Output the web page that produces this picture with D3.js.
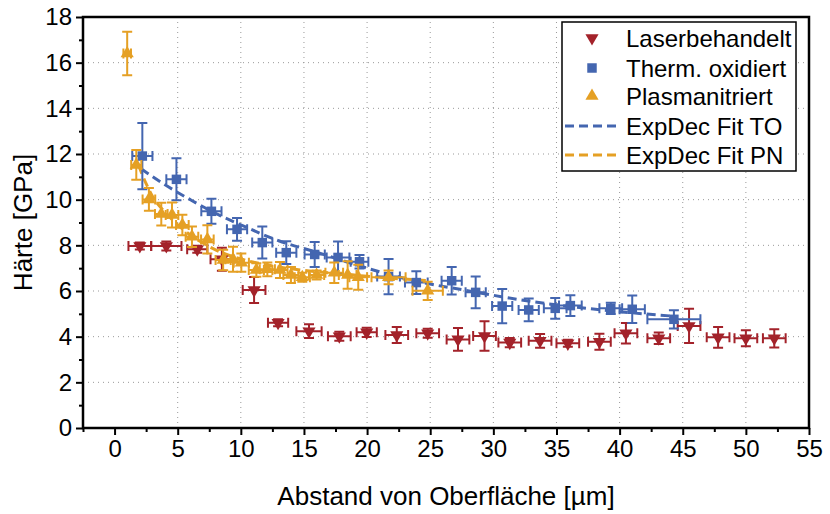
<!DOCTYPE html>
<html>
<head>
<meta charset="utf-8">
<script src="https://cdn.jsdelivr.net/npm/d3@7"></script>
<style>
  body { margin: 0; background: #fff; }
  text { font-family: "Liberation Sans", Arial, sans-serif; fill: #000; }
</style>
</head>
<body>
<div id="canvas"></div>
<script>
const width = 830;
const height = 514;
const margin = { top: 17, left: 83, bottom: 86, right: 21 };
const iwidth = width - margin.left - margin.right;
const iheight = height - margin.top - margin.bottom;

// Laserbehandelt
const laserX = [2.0, 4.1, 6.55, 8.5, 11.05, 12.95, 15.4, 17.8, 19.97, 22.35, 24.8, 27.2, 29.3, 31.3, 33.7, 35.9, 38.4, 40.5, 43.1, 45.5, 47.8, 50.0, 52.25];
const laserY = [7.97, 7.97, 7.83, 7.39, 6.04, 4.61, 4.24, 4.02, 4.19, 4.07, 4.15, 3.88, 4.03, 3.74, 3.82, 3.71, 3.78, 4.15, 3.93, 4.47, 3.97, 3.93, 3.93];
const laserYErr = [0.15, 0.2, 0.15, 0.5, 0.57, 0.15, 0.3, 0.2, 0.2, 0.35, 0.2, 0.5, 0.65, 0.2, 0.3, 0.15, 0.35, 0.45, 0.25, 0.75, 0.45, 0.35, 0.4];
const laserXErr = [0.9, 1.2, 0.8, 0.9, 0.9, 0.8, 1.0, 0.9, 0.8, 0.9, 0.9, 0.9, 0.9, 0.9, 0.9, 0.9, 0.9, 0.9, 0.9, 0.9, 0.9, 0.9, 0.9];

// Therm. oxidiert
const thermX = [2.2, 4.9, 7.67, 9.7, 11.7, 13.6, 15.85, 17.7, 19.4, 21.7, 23.9, 26.7, 28.6, 30.7, 32.8, 34.9, 36.1, 39.3, 41.0, 44.3];
const thermY = [11.91, 10.89, 9.49, 8.7, 8.12, 7.68, 7.6, 7.47, 7.28, 6.63, 6.37, 6.45, 5.94, 5.34, 5.17, 5.24, 5.36, 5.24, 5.2, 4.76];
const thermYErr = [1.45, 0.92, 0.55, 0.5, 0.7, 0.5, 0.55, 0.7, 0.3, 0.77, 0.5, 0.6, 0.7, 0.75, 0.5, 0.45, 0.45, 0.25, 0.6, 0.4];
const thermXErr = [0.8, 0.8, 0.8, 0.8, 0.8, 0.8, 0.8, 0.9, 0.7, 0.9, 0.9, 0.8, 0.8, 0.8, 0.8, 0.9, 0.9, 0.9, 1.0, 2.1];

// Plasmanitriert
const plasmaX = [1.0, 1.72, 2.72, 3.7, 4.55, 5.37, 6.13, 7.35, 8.6, 9.38, 10.04, 11.23, 12.1, 13.1, 13.97, 14.87, 16.0, 17.4, 18.46, 19.3, 21.7, 24.8];
const plasmaY = [16.4, 11.52, 10.01, 9.37, 9.33, 8.89, 8.38, 8.26, 7.36, 7.39, 7.24, 6.92, 6.95, 6.92, 6.7, 6.6, 6.7, 6.8, 6.7, 6.6, 6.6, 6.01];
const plasmaYErr = [0.95, 0.65, 0.5, 0.5, 0.55, 0.45, 0.45, 0.62, 0.45, 0.55, 0.4, 0.3, 0.3, 0.35, 0.35, 0.2, 0.2, 0.45, 0.6, 0.55, 0.3, 0.4];
const plasmaXErr = [0.3, 0.4, 0.5, 0.5, 0.5, 0.5, 0.5, 0.5, 0.6, 0.6, 0.6, 0.6, 0.6, 0.6, 0.6, 0.6, 0.6, 0.7, 0.7, 0.7, 1.35, 1.2];

// ExpDec fits
const fitTOX = [2.1, 4, 6, 8, 10, 13, 16, 19.4, 23.7, 27.6, 32.9, 37.7, 44.2];
const fitTOY = [11.35, 10.65, 10.0, 9.4, 8.9, 8.2, 7.7, 7.1, 6.45, 6.05, 5.55, 5.22, 4.9];
const fitPNX = [1.9, 2.5, 3, 4, 5, 6, 7, 8, 10, 12, 15, 18, 21, 25];
const fitPNY = [11.5, 10.7, 10.15, 9.45, 8.9, 8.45, 8.1, 7.8, 7.4, 7.15, 6.9, 6.75, 6.6, 6.45];

const xTicks = d3.range(0, 56, 5);
const xMinor = d3.range(-2.5, 55, 5);
const yTicks = d3.range(0, 19, 2);
const yMinor = d3.range(1, 18, 2);

const red = "#a3222a";
const blue = "#4466b0";
const orange = "#e5a024";

const series = [
  { name: "Laserbehandelt", color: red, symbol: "down", xs: laserX, ys: laserY, ye: laserYErr, xe: laserXErr },
  { name: "Therm. oxidiert", color: blue, symbol: "square", xs: thermX, ys: thermY, ye: thermYErr, xe: thermXErr },
  { name: "Plasmanitriert", color: orange, symbol: "up", xs: plasmaX, ys: plasmaY, ye: plasmaYErr, xe: plasmaXErr },
];
const fits = [
  { name: "ExpDec Fit TO", color: blue, xs: fitTOX, ys: fitTOY },
  { name: "ExpDec Fit PN", color: orange, xs: fitPNX, ys: fitPNY },
];

const svg = d3.select("#canvas").append("svg")
  .attr("width", width)
  .attr("height", height);

const g = svg.append("g")
  .attr("transform", `translate(${margin.left},${margin.top})`);

const x = d3.scaleLinear().domain([-2.5, 55]).range([0, iwidth]);
const y = d3.scaleLinear().domain([0, 18]).range([iheight, 0]);

// grid
g.append("g").selectAll("line").data(xTicks.filter((d) => d > 0 && d < 55)).enter()
  .append("line")
  .attr("x1", (d) => x(d)).attr("x2", (d) => x(d))
  .attr("y1", 0).attr("y2", iheight)
  .attr("stroke", "#999").attr("stroke-width", 1).attr("stroke-dasharray", "1,4");
g.append("g").selectAll("line").data(yTicks.filter((d) => d > 0 && d < 18)).enter()
  .append("line")
  .attr("x1", 0).attr("x2", iwidth)
  .attr("y1", (d) => y(d)).attr("y2", (d) => y(d))
  .attr("stroke", "#999").attr("stroke-width", 1).attr("stroke-dasharray", "1,4");

// fit lines
const line = d3.line().x((d) => x(d[0])).y((d) => y(d[1])).curve(d3.curveMonotoneX);
fits.forEach((f) => {
  g.append("path")
    .datum(f.xs.map((v, i) => [v, f.ys[i]]))
    .attr("d", line)
    .attr("fill", "none")
    .attr("stroke", f.color)
    .attr("stroke-width", 3)
    .attr("stroke-dasharray", "9,5");
});

function symbolPath(kind) {
  if (kind === "square") return d3.symbol().type(d3.symbolSquare).size(90)();
  return d3.symbol().type(d3.symbolTriangle).size(75)();
}

// error bars + markers
const cap = 5;
series.forEach((s) => {
  const pts = s.xs.map((v, i) => ({ x: v, y: s.ys[i], ye: s.ye[i], xe: s.xe[i] }));
  const eb = g.append("g").attr("stroke", s.color).attr("stroke-width", 2).attr("fill", "none");
  pts.forEach((p) => {
    const cx = x(p.x), cy = y(p.y);
    const y1 = y(p.y + p.ye), y2 = y(p.y - p.ye);
    const x1 = x(p.x - p.xe), x2 = x(p.x + p.xe);
    eb.append("path").attr("d",
      `M${cx},${y1}V${y2}M${cx - cap},${y1}H${cx + cap}M${cx - cap},${y2}H${cx + cap}` +
      `M${x1},${cy}H${x2}M${x1},${cy - cap}V${cy + cap}M${x2},${cy - cap}V${cy + cap}`);
  });
  g.append("g").selectAll("path").data(pts).enter()
    .append("path")
    .attr("d", symbolPath(s.symbol))
    .attr("transform", (d) => `translate(${x(d.x)},${y(d.y)})` + (s.symbol === "down" ? " rotate(180)" : ""))
    .attr("fill", s.color);
});

// axes
g.append("g")
  .attr("transform", `translate(0,${iheight})`)
  .call(d3.axisBottom(x).tickValues(xTicks).tickSize(7).tickPadding(5).tickSizeOuter(0));
g.append("g")
  .attr("transform", `translate(0,${iheight})`)
  .call(d3.axisBottom(x).tickValues(xMinor).tickSize(4).tickFormat("").tickSizeOuter(0));
g.append("g")
  .call(d3.axisLeft(y).tickValues(yTicks).tickSize(7).tickPadding(4).tickSizeOuter(0));
g.append("g")
  .call(d3.axisLeft(y).tickValues(yMinor).tickSize(4).tickFormat("").tickSizeOuter(0));

g.selectAll(".domain").remove();
g.selectAll(".tick line").attr("stroke", "#000").attr("stroke-width", 2);
g.selectAll(".tick text")
  .style("font-family", "'Liberation Sans', Arial, sans-serif")
  .style("font-size", "24px")
  .attr("fill", "#000");

// frame
g.append("rect")
  .attr("x", 0).attr("y", 0)
  .attr("width", iwidth).attr("height", iheight)
  .attr("fill", "none")
  .attr("stroke", "#000")
  .attr("stroke-width", 2.5);

// axis titles
svg.append("text")
  .attr("x", margin.left + iwidth / 2)
  .attr("y", 505)
  .attr("text-anchor", "middle")
  .style("font-size", "26px")
  .text("Abstand von Oberfläche [µm]");
svg.append("text")
  .attr("transform", `translate(32,${margin.top + iheight / 2}) rotate(-90)`)
  .attr("text-anchor", "middle")
  .style("font-size", "26px")
  .text("Härte [GPa]");

// legend
const lg = svg.append("g").attr("transform", "translate(562,22)");
lg.append("rect")
  .attr("width", 234).attr("height", 149)
  .attr("fill", "#fff").attr("stroke", "#000").attr("stroke-width", 1.5);
const rowY = [16, 46, 74, 104, 133];
series.forEach((s, i) => {
  lg.append("path")
    .attr("d", symbolPath(s.symbol))
    .attr("transform", `translate(30,${rowY[i]})` + (s.symbol === "down" ? " rotate(180)" : ""))
    .attr("fill", s.color);
  lg.append("text").attr("x", 64).attr("y", rowY[i] + 9).style("font-size", "24px").text(s.name);
});
fits.forEach((f, j) => {
  const ry = rowY[3 + j];
  lg.append("line")
    .attr("x1", 3).attr("x2", 58).attr("y1", ry).attr("y2", ry)
    .attr("stroke", f.color).attr("stroke-width", 3).attr("stroke-dasharray", "9,5");
  lg.append("text").attr("x", 64).attr("y", ry + 9).style("font-size", "24px").text(f.name);
});
</script>
</body>
</html>
